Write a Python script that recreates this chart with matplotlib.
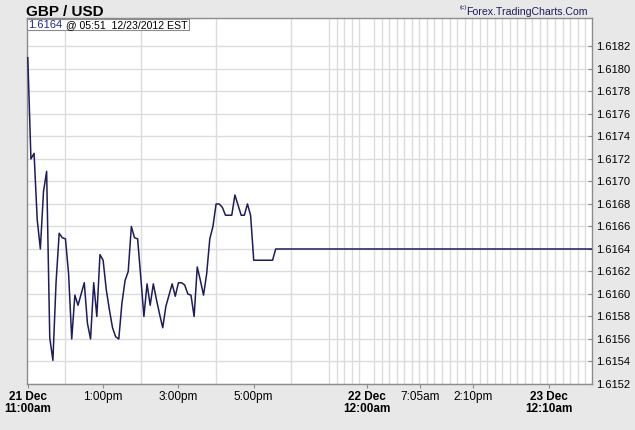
import numpy as np
import matplotlib
matplotlib.use("Agg")
import matplotlib.pyplot as plt
from matplotlib.patches import Rectangle

# 5-minute closes from 21 Dec 11:00am
start_hour = 11.0
step_minutes = 5
prices = [
    1.61810, 1.61720, 1.61725, 1.61666, 1.61640, 1.61691, 1.61709, 1.61561,
    1.61541, 1.61610, 1.61654, 1.61650, 1.61649, 1.61618, 1.61560, 1.61599,
    1.61590, 1.61600, 1.61610, 1.61574, 1.61560, 1.61610, 1.61580, 1.61635,
    1.61630, 1.61604, 1.61586, 1.61570, 1.61562, 1.61560, 1.61592, 1.61612,
    1.61620, 1.61660, 1.61650, 1.61649, 1.61615, 1.61580, 1.61609, 1.61590,
    1.61609, 1.61595, 1.61582, 1.61570, 1.61589, 1.61599, 1.61609, 1.61598,
    1.61610, 1.61610, 1.61608, 1.61600, 1.61599, 1.61580, 1.61624, 1.61612,
    1.61599, 1.61618, 1.61649, 1.61660, 1.61680, 1.61680, 1.61677, 1.61670,
    1.61670, 1.61670, 1.61688, 1.61679, 1.61670, 1.61670, 1.61680, 1.61670,
    1.61630, 1.61630, 1.61630, 1.61630, 1.61630, 1.61630, 1.61630, 1.61640,
]
# last quote: 23 Dec 05:51 (hours counted from 21 Dec 00:00)
last_hour = 53.85
last_price = 1.6164

tick_hours = [11, 13, 15, 17, 24, 31 + 5 / 60, 38 + 10 / 60, 48 + 10 / 60]
tick_labels = ["21 Dec\n11:00am", "1:00pm", "3:00pm", "5:00pm",
               "22 Dec\n12:00am", "7:05am", "2:10pm", "23 Dec\n12:10am"]
y_ticks = [1.6152, 1.6154, 1.6156, 1.6158, 1.6160, 1.6162, 1.6164, 1.6166,
           1.6168, 1.6170, 1.6172, 1.6174, 1.6176, 1.6178, 1.6180, 1.6182]

hours = [start_hour + i * step_minutes / 60 for i in range(len(prices))]
hours.append(last_hour)
values = prices + [last_price]

# weekend hours after 7pm are drawn squeezed
BREAK = 19.0
SQUEEZE = 5.0


def fwd(h):
    h = np.asarray(h, dtype=float)
    return np.where(h <= BREAK, h, BREAK + (h - BREAK) / SQUEEZE)


def inv(p):
    p = np.asarray(p, dtype=float)
    return np.where(p <= BREAK, p, BREAK + (p - BREAK) * SQUEEZE)


bg = "#e8e8e8"
navy = "#1c1c5e"
grid_c = "#dcdcdc"
spine_c = "#8c8c8c"
font = "Liberation Sans"

fig = plt.figure(figsize=(6.35, 4.30), dpi=100, facecolor=bg)
ax = fig.add_axes([0.042, 0.107, 0.8895, 0.8503])
ax.set_facecolor("white")

ax.set_xscale("function", functions=(fwd, inv))
ax.plot(hours, values, color=navy, lw=1.1, zorder=3)

ax.set_xlim(10.97, last_hour)
ax.set_ylim(1.6152, 1.61845)

ax.set_xticks(tick_hours)
ax.set_xticklabels(tick_labels, fontfamily=font, fontsize=8.5, linespacing=1.05)
for lbl in ax.get_xticklabels():
    if "\n" in lbl.get_text():
        lbl.set_fontweight("bold")
ax.set_xticks(np.arange(11, 54), minor=True)
ax.tick_params(axis="x", which="major", direction="out", length=3,
               color=spine_c, pad=2)
ax.tick_params(axis="x", which="minor", length=0)
ax.grid(False)
ax.grid(True, axis="x", which="minor", color=grid_c, lw=1, zorder=0)

ax.yaxis.tick_right()
ax.set_yticks(y_ticks)
ax.set_yticklabels([f"{v:.4f}" for v in y_ticks], fontfamily=font, fontsize=8)
ax.tick_params(axis="y", direction="in", length=3, color=spine_c, pad=3)
ax.grid(True, axis="y", which="major", color=grid_c, lw=1, zorder=0)

for s in ax.spines.values():
    s.set_color(spine_c)
    s.set_linewidth(1)

fig.text(0.041, 0.973, "GBP / USD", fontfamily=font, fontsize=11,
         fontweight="bold", va="center", ha="left")
fig.text(0.926, 0.973, "Forex.TradingCharts.Com", fontfamily=font,
         fontsize=7.6, color=navy, va="center", ha="right")
fig.text(0.724, 0.983, "(c)", fontfamily=font, fontsize=4.5, color=navy,
         va="center", ha="left")

# last quote box, top-left inside the plot
ax.add_patch(Rectangle((0.042, 0.930), 0.256, 0.026, transform=fig.transFigure,
                       facecolor="white", edgecolor=spine_c, lw=0.8,
                       clip_on=False, zorder=5))
t1 = ax.text(0.045, 0.934, "1.6164", transform=fig.transFigure,
             fontfamily=font, fontsize=8, color="#1a2a8a",
             va="baseline", ha="left", zorder=6)
fig.canvas.draw()
x_end = fig.transFigure.inverted().transform(
    (t1.get_window_extent().x1, 0))[0]
ax.text(x_end, 0.934, " @ 05:51  12/23/2012 EST", transform=fig.transFigure,
        fontfamily=font, fontsize=7.6, color="black",
        va="baseline", ha="left", zorder=6)

fig.savefig("out.png", dpi=100, facecolor=bg)
